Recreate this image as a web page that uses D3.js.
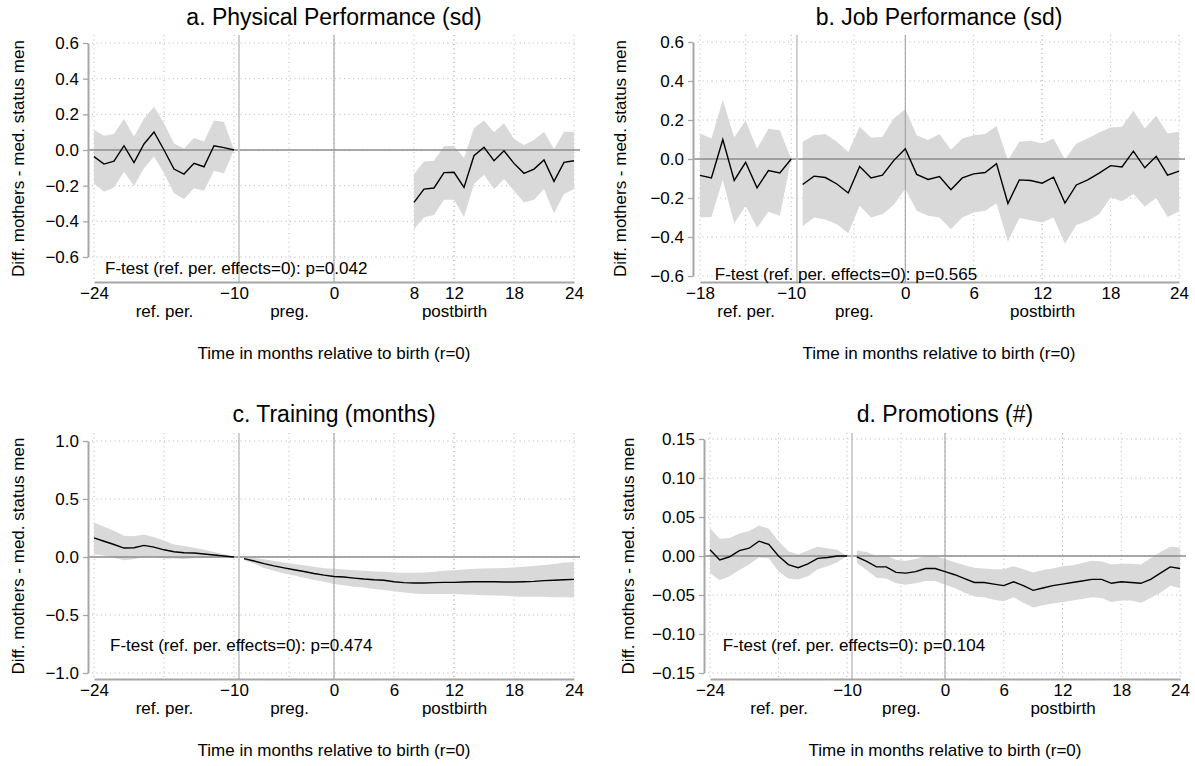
<!DOCTYPE html>
<html>
<head>
<meta charset="utf-8">
<script src="https://cdn.jsdelivr.net/npm/d3@7"></script>
<style>
  body { margin: 0; background: #fff; }
  svg text { font-family: "Liberation Sans", Arial, Helvetica, sans-serif; fill: #000; }
</style>
</head>
<body>
<svg id="chart" width="1195" height="766"></svg>
<script>
// ---- a. Physical Performance (sd) ----
var physRefMonths = d3.range(-24, -9);
var physRefCoef = [-0.037, -0.079, -0.062, 0.024, -0.071, 0.034, 0.101, 0.0, -0.107, -0.135, -0.075, -0.094, 0.024, 0.013, 0];
var physRefHi = [0.112, 0.08, 0.09, 0.174, 0.075, 0.176, 0.243, 0.15, 0.037, 0.009, 0.067, 0.047, 0.165, 0.157, 0];
var physRefLo = [-0.187, -0.234, -0.21, -0.122, -0.202, -0.103, -0.037, -0.131, -0.243, -0.275, -0.215, -0.228, -0.116, -0.131, 0];
var physPostMonths = d3.range(8, 25);
var physPostCoef = [-0.294, -0.219, -0.213, -0.127, -0.125, -0.21, -0.032, 0.015, -0.06, -0.004, -0.075, -0.131, -0.107, -0.056, -0.176, -0.069, -0.06];
var physPostHi = [-0.135, -0.064, -0.06, 0.021, 0.024, -0.045, 0.124, 0.165, 0.099, 0.15, 0.062, 0.028, 0.056, 0.103, 0.006, 0.103, 0.103];
var physPostLo = [-0.444, -0.378, -0.365, -0.279, -0.279, -0.375, -0.191, -0.139, -0.219, -0.163, -0.228, -0.294, -0.279, -0.219, -0.354, -0.247, -0.219];

// ---- b. Job Performance (sd) ----
var jobRefMonths = d3.range(-18, -9);
var jobRefCoef = [-0.084, -0.097, 0.1, -0.11, -0.017, -0.148, -0.059, -0.072, 0];
var jobRefHi = [0.131, 0.105, 0.303, 0.11, 0.197, 0.053, 0.155, 0.148, 0];
var jobRefLo = [-0.3, -0.297, -0.107, -0.331, -0.24, -0.352, -0.271, -0.291, 0];
var jobPostMonths = d3.range(-9, 25);
var jobPostCoef = [-0.131, -0.088, -0.095, -0.128, -0.174, -0.038, -0.097, -0.083, -0.007, 0.053,
  -0.079, -0.105, -0.09, -0.157, -0.097, -0.076, -0.069, -0.024, -0.228, -0.107, -0.11, -0.124,
  -0.093, -0.226, -0.133, -0.107, -0.072, -0.034, -0.041, 0.04, -0.045, 0.014, -0.083, -0.062];
var jobPostHi = [0.088, 0.122, 0.128, 0.088, 0.036, 0.166, 0.109, 0.114, 0.209, 0.255,
  0.122, 0.097, 0.128, 0.048, 0.105, 0.122, 0.128, 0.169, -0.007, 0.088, 0.093, 0.079,
  0.105, -0.003, 0.079, 0.105, 0.136, 0.162, 0.166, 0.248, 0.157, 0.222, 0.131, 0.14];
var jobPostLo = [-0.345, -0.3, -0.31, -0.334, -0.381, -0.24, -0.3, -0.283, -0.234, -0.153,
  -0.266, -0.291, -0.3, -0.36, -0.3, -0.274, -0.266, -0.228, -0.424, -0.303, -0.314, -0.326,
  -0.3, -0.434, -0.338, -0.317, -0.283, -0.197, -0.217, -0.179, -0.243, -0.2, -0.297, -0.269];

// ---- c. Training (months) ----
var trainRefMonths = d3.range(-24, -9);
var trainRefCoef = [0.165, 0.136, 0.108, 0.077, 0.08, 0.1, 0.085, 0.062, 0.045, 0.037, 0.034, 0.026, 0.017, 0.009, 0];
var trainRefHi = [0.298, 0.26, 0.227, 0.184, 0.179, 0.193, 0.17, 0.142, 0.108, 0.094, 0.08, 0.062, 0.043, 0.023, 0];
var trainRefLo = [0.023, 0.014, -0.006, -0.028, -0.02, 0.0, 0.0, -0.014, -0.014, -0.017, -0.011, -0.008, -0.006, -0.003, 0];
var trainPostMonths = d3.range(-9, 25);
var trainPostCoef = [-0.014, -0.034, -0.057, -0.077, -0.094, -0.11, -0.125, -0.142, -0.156, -0.168,
  -0.173, -0.182, -0.19, -0.196, -0.2, -0.213, -0.221, -0.224, -0.224, -0.221, -0.219, -0.219,
  -0.216, -0.213, -0.213, -0.213, -0.216, -0.216, -0.213, -0.21, -0.204, -0.2, -0.196, -0.193];
var trainPostHi = [-0.003, -0.009, -0.02, -0.034, -0.048, -0.06, -0.071, -0.085, -0.097, -0.102,
  -0.108, -0.114, -0.119, -0.125, -0.128, -0.133, -0.136, -0.136, -0.133, -0.128, -0.119, -0.114,
  -0.108, -0.102, -0.1, -0.097, -0.094, -0.091, -0.085, -0.077, -0.068, -0.06, -0.048, -0.043];
var trainPostLo = [-0.028, -0.057, -0.094, -0.119, -0.142, -0.159, -0.179, -0.199, -0.213, -0.233,
  -0.244, -0.256, -0.264, -0.276, -0.284, -0.295, -0.307, -0.315, -0.318, -0.318, -0.318, -0.32,
  -0.323, -0.326, -0.33, -0.332, -0.335, -0.34, -0.343, -0.343, -0.343, -0.346, -0.346, -0.349];

// ---- d. Promotions (#) ----
var promoRefMonths = d3.range(-24, -9);
var promoRefCoef = [0.008, -0.005, -0.001, 0.007, 0.010, 0.019, 0.015, 0.0, -0.011, -0.015, -0.01, -0.003, -0.002, 0.0, 0];
var promoRefHi = [0.036, 0.022, 0.023, 0.029, 0.032, 0.039, 0.035, 0.019, 0.006, 0.002, 0.007, 0.012, 0.010, 0.008, 0];
var promoRefLo = [-0.022, -0.031, -0.026, -0.018, -0.011, -0.002, -0.003, -0.02, -0.029, -0.03, -0.026, -0.017, -0.013, -0.008, 0];
var promoPostMonths = d3.range(-9, 25);
var promoPostCoef = [-0.001, -0.007, -0.014, -0.014, -0.021, -0.022, -0.02, -0.016, -0.016, -0.02,
  -0.024, -0.029, -0.034, -0.034, -0.036, -0.038, -0.033, -0.038, -0.044, -0.041, -0.038, -0.036,
  -0.034, -0.032, -0.030, -0.030, -0.035, -0.033, -0.034, -0.035, -0.030, -0.022, -0.014, -0.016];
var promoPostHi = [0.007, 0.005, 0.0, 0.001, -0.005, -0.006, -0.004, 0.0, 0.0, -0.004,
  -0.008, -0.012, -0.015, -0.016, -0.017, -0.017, -0.013, -0.017, -0.021, -0.018, -0.016, -0.013,
  -0.012, -0.009, -0.006, -0.007, -0.011, -0.010, -0.010, -0.011, -0.003, 0.005, 0.012, 0.011];
var promoPostLo = [-0.009, -0.018, -0.028, -0.029, -0.035, -0.037, -0.035, -0.032, -0.032, -0.037,
  -0.041, -0.047, -0.052, -0.053, -0.056, -0.058, -0.053, -0.06, -0.066, -0.063, -0.061, -0.059,
  -0.057, -0.055, -0.053, -0.054, -0.059, -0.057, -0.057, -0.06, -0.054, -0.047, -0.038, -0.041];

// tick labels
var xTicksLong = [-24, -10, 0, 6, 12, 18, 24];
var xTicksPhys = [-24, -10, 0, 8, 12, 18, 24];
var xTicksJob = [-18, -10, 0, 6, 12, 18, 24];
var periodNames = ["ref. per.", "preg.", "postbirth"];
var periodPosLong = [-17, -4.5, 12];
var periodPosJob = [-14, -4.5, 12];
var yTicksSd = [-0.6, -0.4, -0.2, 0, 0.2, 0.4, 0.6];
var yTicksTrain = [-1, -0.5, 0, 0.5, 1];
var yTicksPromo = [-0.15, -0.1, -0.05, 0, 0.05, 0.1, 0.15];
var fTestP = ["0.042", "0.565", "0.474", "0.104"];

var yTitle = "Diff. mothers - med. status men";
var xTitle = "Time in months relative to birth (r=0)";

var FONT = "'Liberation Sans', Arial, sans-serif";
var TXT = 17;

var svg = d3.select("#chart");

function series(months, coef, lo, hi) {
  return months.map(function (m, i) {
    return { m: m, c: coef[i], lo: lo[i], hi: hi[i] };
  });
}

function drawPanel(p) {
  var x = d3.scaleLinear().domain(p.xDomain).range(p.xRange);
  var y = d3.scaleLinear().domain(d3.extent(p.yTicks)).range(p.yRange);
  var g = svg.append("g");

  // dotted grid
  g.selectAll(".hgrid").data(p.yTicks).enter().append("line")
    .attr("x1", x(p.xDomain[0]) - 2).attr("x2", x(p.xDomain[1]) + 2)
    .attr("y1", function (d) { return y(d); }).attr("y2", function (d) { return y(d); })
    .attr("stroke", "#b8b8b8").attr("stroke-width", 1).attr("stroke-dasharray", "1,3.5");
  g.selectAll(".vgrid").data(p.xTicks.concat(p.periodPos)).enter().append("line")
    .attr("x1", function (d) { return x(d); }).attr("x2", function (d) { return x(d); })
    .attr("y1", p.top).attr("y2", p.axisY)
    .attr("stroke", "#b8b8b8").attr("stroke-width", 1).attr("stroke-dasharray", "1,3.5");

  // confidence bands and point estimates
  var area = d3.area()
    .x(function (d) { return x(d.m); })
    .y0(function (d) { return y(d.lo); })
    .y1(function (d) { return y(d.hi); });
  var line = d3.line()
    .x(function (d) { return x(d.m); })
    .y(function (d) { return y(d.c); });
  p.segments.forEach(function (s) {
    g.append("path").attr("d", area(s)).attr("fill", "#d9d9d9");
  });

  // reference lines
  g.append("line")
    .attr("x1", p.axisX).attr("x2", p.right)
    .attr("y1", y(0)).attr("y2", y(0))
    .attr("stroke", "#8c8c8c").attr("stroke-width", 1.3);
  g.append("line")
    .attr("x1", x(-9.5)).attr("x2", x(-9.5))
    .attr("y1", p.top).attr("y2", p.axisY)
    .attr("stroke", "#c4c4c4").attr("stroke-width", 1.6);
  g.append("line")
    .attr("x1", x(0)).attr("x2", x(0))
    .attr("y1", p.top).attr("y2", p.axisY)
    .attr("stroke", "#9a9a9a").attr("stroke-width", 1);

  p.segments.forEach(function (s) {
    g.append("path").attr("d", line(s))
      .attr("fill", "none").attr("stroke", "#000").attr("stroke-width", 1.4);
  });

  // y axis
  var yAxis = d3.axisLeft(y).tickValues(p.yTicks).tickFormat(d3.format(p.yFormat))
    .tickSizeInner(5).tickSizeOuter(0).tickPadding(4);
  var ya = g.append("g").attr("transform", "translate(" + p.axisX + ",0)").call(yAxis);
  ya.select(".domain").attr("stroke", "#a6a6a6").attr("stroke-width", 2);
  ya.selectAll(".tick line").attr("stroke", "#a6a6a6").attr("stroke-width", 1.3);
  ya.selectAll(".tick text").attr("font-size", TXT).attr("fill", "#000").style("font-family", FONT);

  // x axis
  var xAxis = d3.axisBottom(x).tickValues(p.xTicks).tickFormat(d3.format("d"))
    .tickSize(0).tickPadding(5);
  var xa = g.append("g").attr("transform", "translate(0," + p.axisY + ")").call(xAxis);
  xa.select(".domain").attr("stroke", "#a6a6a6").attr("stroke-width", 2);
  xa.selectAll(".tick text").attr("font-size", TXT).attr("fill", "#000").style("font-family", FONT);

  // period labels on a second axis row
  var pAxis = d3.axisBottom(x).tickValues(p.periodPos)
    .tickFormat(function (d, i) { return periodNames[i]; })
    .tickSize(0).tickPadding(23);
  var pa = g.append("g").attr("transform", "translate(0," + p.axisY + ")").call(pAxis);
  pa.select(".domain").remove();
  pa.selectAll(".tick text").attr("font-size", TXT).attr("fill", "#000").style("font-family", FONT);

  // titles
  var cx = (p.axisX + p.right) / 2;
  g.append("text").attr("x", cx).attr("y", p.titleY)
    .attr("text-anchor", "middle").attr("font-size", 23).text(p.title);
  g.append("text").attr("x", cx).attr("y", p.axisY + 77)
    .attr("text-anchor", "middle").attr("font-size", TXT).text(xTitle);
  var ty = (p.top + p.axisY) / 2;
  g.append("text")
    .attr("transform", "translate(" + p.yTitleX + "," + ty + ") rotate(-90)")
    .attr("text-anchor", "middle").attr("font-size", TXT).text(yTitle);

  // F-test note
  g.append("text").attr("x", x(p.noteAt[0])).attr("y", y(p.noteAt[1]))
    .attr("dy", "0.35em").attr("font-size", TXT)
    .text("F-test (ref. per. effects=0): p=" + p.pValue);
}

drawPanel({
  title: "a. Physical Performance (sd)", titleY: 25,
  xDomain: [-24, 24], xRange: [94, 574], xTicks: xTicksPhys, periodPos: periodPosLong,
  yTicks: yTicksSd, yRange: [257, 43], yFormat: ".1f",
  axisX: 88, right: 580, top: 35, axisY: 282, yTitleX: 24,
  segments: [series(physRefMonths, physRefCoef, physRefLo, physRefHi),
             series(physPostMonths, physPostCoef, physPostLo, physPostHi)],
  noteAt: [-22.9, -0.663], pValue: fTestP[0]
});
drawPanel({
  title: "b. Job Performance (sd)", titleY: 25,
  xDomain: [-18, 24], xRange: [700, 1179], xTicks: xTicksJob, periodPos: periodPosJob,
  yTicks: yTicksSd, yRange: [276, 42], yFormat: ".1f",
  axisX: 693, right: 1185, top: 35, axisY: 282, yTitleX: 626,
  segments: [series(jobRefMonths, jobRefCoef, jobRefLo, jobRefHi),
             series(jobPostMonths, jobPostCoef, jobPostLo, jobPostHi)],
  noteAt: [-16.7, -0.59], pValue: fTestP[1]
});
drawPanel({
  title: "c. Training (months)", titleY: 422,
  xDomain: [-24, 24], xRange: [94, 574], xTicks: xTicksLong, periodPos: periodPosLong,
  yTicks: yTicksTrain, yRange: [673, 441], yFormat: ".1f",
  axisX: 88, right: 580, top: 433, axisY: 679, yTitleX: 24,
  segments: [series(trainRefMonths, trainRefCoef, trainRefLo, trainRefHi),
             series(trainPostMonths, trainPostCoef, trainPostLo, trainPostHi)],
  noteAt: [-22.4, -0.76], pValue: fTestP[2]
});
drawPanel({
  title: "d. Promotions (#)", titleY: 422,
  xDomain: [-24, 24], xRange: [710, 1180], xTicks: xTicksLong, periodPos: periodPosLong,
  yTicks: yTicksPromo, yRange: [673, 439], yFormat: ".2f",
  axisX: 704, right: 1186, top: 433, axisY: 679, yTitleX: 634,
  segments: [series(promoRefMonths, promoRefCoef, promoRefLo, promoRefHi),
             series(promoPostMonths, promoPostCoef, promoPostLo, promoPostHi)],
  noteAt: [-22.7, -0.114], pValue: fTestP[3]
});
</script>
</body>
</html>
